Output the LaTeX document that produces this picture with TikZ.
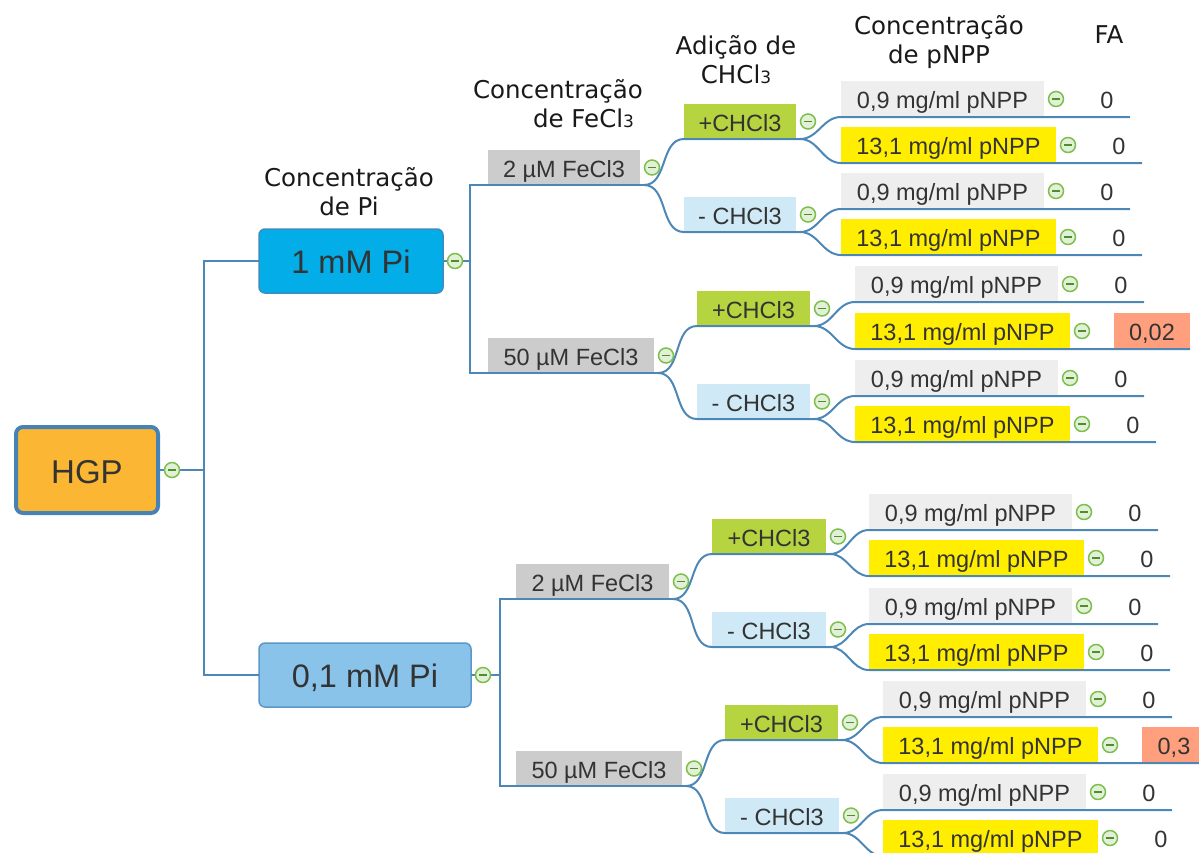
\documentclass[tikz,border=0pt]{standalone}
\usepackage{fontspec}
\setmainfont{Liberation Sans}
\newfontfamily\mmhdrfont{DejaVu Sans}
\definecolor{connc}{HTML}{4C87B5}
\definecolor{txtc}{HTML}{333333}
\definecolor{hgpfill}{HTML}{FBB634}
\definecolor{hgpdraw}{HTML}{4682B4}
\definecolor{pionefill}{HTML}{02ADE8}
\definecolor{pionedraw}{HTML}{3D8CC0}
\definecolor{pitwofill}{HTML}{89C3EA}
\definecolor{pitwodraw}{HTML}{5B97C9}
\definecolor{fefill}{HTML}{CCCCCC}
\definecolor{plusfill}{HTML}{B6D43F}
\definecolor{minusfill}{HTML}{CFEAF6}
\definecolor{lowfill}{HTML}{EEEEEE}
\definecolor{highfill}{HTML}{FFEE00}
\definecolor{hlfill}{HTML}{FF9F7D}
\definecolor{togdraw}{HTML}{7CBF4C}
\definecolor{togfill}{HTML}{E2F0D8}
\definecolor{togmin}{HTML}{4E8F2C}
\newcommand\mmnodefont{\fontsize{23.5pt}{28pt}\selectfont}
\newcommand\mmbigfont{\fontsize{32.5pt}{38pt}\selectfont}
\newcommand\mmheadfont{\mmhdrfont\fontsize{24.5pt}{28.5pt}\selectfont}
\newcommand\mmsmallthree{{\fontsize{17pt}{17pt}\selectfont 3}}
\newcommand\mmtoggle[1]{%
  \draw[togc] ([xshift=12pt]#1.east) circle[radius=7.5pt];
  \draw[togm] ([xshift=8pt]#1.east) -- ([xshift=16pt]#1.east);}
\tikzset{
  boxbase/.style={inner sep=0pt, outer sep=0pt, text=txtc, font=\mmnodefont,
    text height=19pt, text depth=0pt, minimum height=35pt, anchor=north west},
  hgpbox/.style={boxbase, font=\fontsize{33pt}{38pt}\selectfont, text height=27.5pt, fill=hgpfill, draw=hgpdraw,
    line width=4pt, outer sep=2pt, rounded corners=7pt, minimum width=142pt, minimum height=86pt},
  pibox/.style={boxbase, font=\mmbigfont, text height=24.5pt, line width=1.5pt, rounded corners=6pt, minimum height=64pt},
  feboxst/.style={boxbase, fill=fefill},
  plusbox/.style={boxbase, fill=plusfill},
  minusbox/.style={boxbase, fill=minusfill},
  lowbox/.style={boxbase, fill=lowfill, minimum width=203pt, minimum height=36pt},
  highbox/.style={boxbase, fill=highfill, minimum width=215pt, minimum height=36pt},
  fabox/.style={boxbase, minimum width=46pt, minimum height=36pt},
  fahl/.style={fabox, fill=hlfill},
  headst/.style={inner sep=0pt, outer sep=0pt, font=\mmheadfont, text=black!90},
  conn/.style={draw=connc, line width=2pt},
  togc/.style={draw=togdraw, fill=togfill, line width=1.5pt},
  togm/.style={draw=togmin, line width=1.3pt}
}
\begin{document}
\begin{tikzpicture}[x=1pt,y=-1pt]
\useasboundingbox (0,0) rectangle (1199,852);

% headers (base anchor = baseline of the last line)
\node[headst, anchor=base, align=center] (hpi) at (349,215) {Concentração\\de Pi};
\node[headst, anchor=base west, align=left] (hfe) at (473,127) {Concentração\\\hspace*{60pt}de FeCl\mmsmallthree};
\node[headst, anchor=base, align=center] (hch) at (736,83) {Adição de\\CHCl\mmsmallthree};
\node[headst, anchor=base, align=center] (hnp) at (939,63) {Concentração\\de pNPP};
\node[headst, anchor=base] (hfa) at (1109,43) {FA};

% root and Pi level
\node[hgpbox] (hgp) at (14,425) {HGP};
\node[pibox, fill=pionefill, draw=pionedraw, minimum width=184pt] (pi1) at (259,229) {1 mM Pi};
\node[pibox, fill=pitwofill, draw=pitwodraw, minimum width=212pt] (pi2) at (259,643) {0,1 mM Pi};

% FeCl3 level
\node[feboxst, minimum width=152pt] (fe1) at (488,150) {2 µM FeCl3};
\node[feboxst, minimum width=166pt] (fe2) at (488,338) {50 µM FeCl3};
\node[feboxst, minimum width=153pt] (fe3) at (516,564) {2 µM FeCl3};
\node[feboxst, minimum width=166pt] (fe4) at (516,751) {50 µM FeCl3};

% CHCl3 level
\node[plusbox, minimum width=112pt] (c1) at (684,104) {+CHCl3};
\node[minusbox, minimum width=112pt] (c2) at (684,197) {- CHCl3};
\node[plusbox, minimum width=113pt] (c3) at (697,291) {+CHCl3};
\node[minusbox, minimum width=113pt] (c4) at (697,384) {- CHCl3};
\node[plusbox, minimum width=114pt] (c5) at (712,519) {+CHCl3};
\node[minusbox, minimum width=114pt] (c6) at (712,612) {- CHCl3};
\node[plusbox, minimum width=113pt] (c7) at (725,705) {+CHCl3};
\node[minusbox, minimum width=114pt] (c8) at (725,798) {- CHCl3};

% pNPP level
\node[lowbox] (a1) at (841,81) {0,9 mg/ml pNPP};
\node[highbox] (b1) at (841,127) {13,1 mg/ml pNPP};
\node[lowbox] (a2) at (841,173) {0,9 mg/ml pNPP};
\node[highbox] (b2) at (841,219) {13,1 mg/ml pNPP};
\node[lowbox] (a3) at (855,266) {0,9 mg/ml pNPP};
\node[highbox] (b3) at (855,313) {13,1 mg/ml pNPP};
\node[lowbox] (a4) at (855,360) {0,9 mg/ml pNPP};
\node[highbox] (b4) at (855,406) {13,1 mg/ml pNPP};
\node[lowbox] (a5) at (869,494) {0,9 mg/ml pNPP};
\node[highbox] (b5) at (869,540) {13,1 mg/ml pNPP};
\node[lowbox] (a6) at (869,588) {0,9 mg/ml pNPP};
\node[highbox] (b6) at (869,634) {13,1 mg/ml pNPP};
\node[lowbox] (a7) at (883,681) {0,9 mg/ml pNPP};
\node[highbox] (b7) at (883,727) {13,1 mg/ml pNPP};
\node[lowbox] (a8) at (883,774) {0,9 mg/ml pNPP};
\node[highbox] (b8) at (883,820) {13,1 mg/ml pNPP};

% FA level
\node[fabox, anchor=south west] (fa1) at ([xshift=40pt]a1.south east) {0};
\node[fabox, anchor=south west] (fb1) at ([xshift=40pt]b1.south east) {0};
\node[fabox, anchor=south west] (fa2) at ([xshift=40pt]a2.south east) {0};
\node[fabox, anchor=south west] (fb2) at ([xshift=40pt]b2.south east) {0};
\node[fabox, anchor=south west] (fa3) at ([xshift=40pt]a3.south east) {0};
\node[fahl, minimum width=76pt, anchor=south west] (fb3) at ([xshift=44pt]b3.south east) {0,02};
\node[fabox, anchor=south west] (fa4) at ([xshift=40pt]a4.south east) {0};
\node[fabox, anchor=south west] (fb4) at ([xshift=40pt]b4.south east) {0};
\node[fabox, anchor=south west] (fa5) at ([xshift=40pt]a5.south east) {0};
\node[fabox, anchor=south west] (fb5) at ([xshift=40pt]b5.south east) {0};
\node[fabox, anchor=south west] (fa6) at ([xshift=40pt]a6.south east) {0};
\node[fabox, anchor=south west] (fb6) at ([xshift=40pt]b6.south east) {0};
\node[fabox, anchor=south west] (fa7) at ([xshift=40pt]a7.south east) {0};
\node[fahl, minimum width=64pt, anchor=south west] (fb7) at ([xshift=44pt]b7.south east) {0,3};
\node[fabox, anchor=south west] (fa8) at ([xshift=40pt]a8.south east) {0};
\node[fabox, anchor=south west] (fb8) at ([xshift=40pt]b8.south east) {0};

% connectors
\draw[conn] (hgp.east) -- ++(44,0) |- (pi1.west);
\draw[conn] (hgp.east) -- ++(44,0) |- (pi2.west);
\draw[conn] (pi1.east) -- ++(27,0) |- (fe1.south west) -- ([xshift=4pt]fe1.south east);
\draw[conn] (pi1.east) -- ++(27,0) |- (fe2.south west) -- ([xshift=4pt]fe2.south east);
\draw[conn] (pi2.east) -- ++(29,0) |- (fe3.south west) -- ([xshift=4pt]fe3.south east);
\draw[conn] (pi2.east) -- ++(29,0) |- (fe4.south west) -- ([xshift=4pt]fe4.south east);
\foreach \p/\c in {fe1/c1, fe1/c2, fe2/c3, fe2/c4, fe3/c5, fe3/c6, fe4/c7, fe4/c8}
  \draw[conn] ([xshift=4pt]\p.south east) to[out=0,in=180] (\c.south west) -- ([xshift=4pt]\c.south east);
\foreach \c/\a/\f in {c1/a1/fa1, c1/b1/fb1, c2/a2/fa2, c2/b2/fb2, c3/a3/fa3, c3/b3/fb3, c4/a4/fa4, c4/b4/fb4,
                      c5/a5/fa5, c5/b5/fb5, c6/a6/fa6, c6/b6/fb6, c7/a7/fa7, c7/b7/fb7, c8/a8/fa8, c8/b8/fb8}
  \draw[conn] ([xshift=4pt]\c.south east) to[out=0,in=180] (\a.south west) -- (\f.south east);

% collapse toggles
\foreach \n in {hgp, pi1, pi2, fe1, fe2, fe3, fe4, c1, c2, c3, c4, c5, c6, c7, c8,
                a1, b1, a2, b2, a3, b3, a4, b4, a5, b5, a6, b6, a7, b7, a8, b8}
  {\mmtoggle{\n}}
\end{tikzpicture}
\end{document}
